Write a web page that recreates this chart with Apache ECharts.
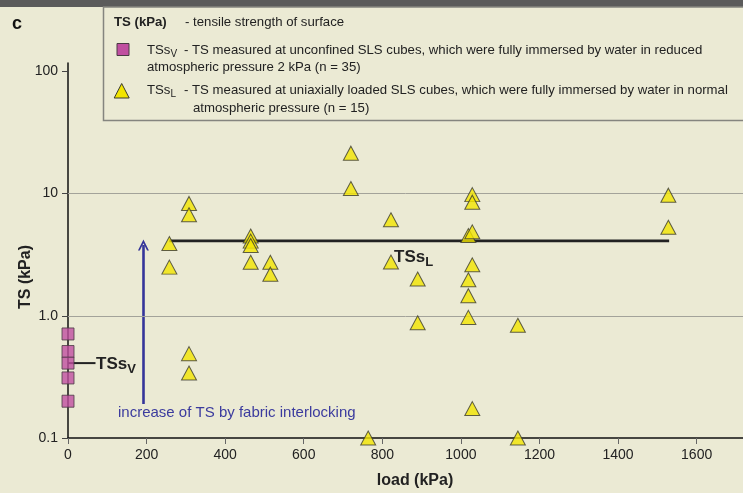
<!DOCTYPE html>
<html>
<head>
<meta charset="utf-8">
<script src="https://cdn.jsdelivr.net/npm/echarts@6/dist/echarts.min.js"></script>
<style>
html,body{margin:0;padding:0;background:#ebead4;}
#c{width:743px;height:493px;}
</style>
</head>
<body>
<div id="c"></div>
<script>
// ---- data ----
const xTickValues = [0, 200, 400, 600, 800, 1000, 1200, 1400, 1600];
const yTickValues = [0.1, 1, 10, 100];
const yTickLabels = ['0.1', '1.0', '10', '100'];

// TSs_V : unconfined cubes, reduced pressure (load 0)
const tsvLoad = [0, 0, 0, 0, 0];
const tsvValue = [0.71, 0.51, 0.41, 0.31, 0.20];

// TSs_L : uniaxially loaded cubes
const tslLoad = [258, 258, 308, 308, 308, 308, 465, 465, 465, 465, 515, 515,
  720, 720, 764, 822, 822, 890, 890, 1019, 1029, 1029, 1029, 1029, 1019, 1019, 1019, 1029,
  1145, 1145, 1528, 1528];
const tslValue = [3.9, 2.5, 8.3, 6.7, 0.49, 0.34, 4.49, 4.08, 3.76, 2.74, 2.74, 2.19,
  21.4, 11.0, 0.1, 6.1, 2.75, 2.0, 0.877, 4.53, 4.86, 9.8, 8.5, 2.61, 1.97, 1.46, 0.97, 0.174,
  0.836, 0.1, 9.7, 5.3];

// mean lines
const tsvMeanLoad = [0, 70];
const tsvMean = 0.41;
const tslMeanLoad = [258, 1530];
const tslMean = 4.1;

// arrow "increase of TS by fabric interlocking"
const arrowLoad = 192;
const arrowFrom = 0.19;
const arrowTo = 3.8;

// gridlines
const gridValues = [1, 10];

const FONT = "'Liberation Sans', Arial, sans-serif";
const LF = '13.2px ' + FONT;

const chart = echarts.init(document.getElementById('c'), null, {renderer: 'canvas'});

const squareData = tsvLoad.map((x, i) => [x, tsvValue[i]]);
const triData = tslLoad.map((x, i) => [x, tslValue[i]]);

const option = {
  backgroundColor: '#ebead4',
  animation: false,
  grid: {left: 68, right: 0, top: 63, bottom: 55},
  xAxis: {
    type: 'value', min: 0, max: 1718, interval: 200,
    axisLine: {show: true, onZero: false, lineStyle: {color: '#111', width: 1.5}},
    axisTick: {show: true, length: 6, lineStyle: {color: '#666', width: 1}, customValues: xTickValues},
    axisLabel: {fontFamily: FONT, fontSize: 14, color: '#222', margin: 10, customValues: xTickValues,
      formatter: function (v) { return String(Math.round(v)); }},
    splitLine: {show: false}
  },
  yAxis: {
    type: 'log', logBase: 10, min: 0.1, max: 117,
    axisLine: {show: true, onZero: false, lineStyle: {color: '#111', width: 1.5}},
    axisTick: {show: true, length: 6, lineStyle: {color: '#444', width: 1}, customValues: yTickValues},
    axisLabel: {
      fontFamily: FONT, fontSize: 14, color: '#222', margin: 10, customValues: yTickValues,
      formatter: function (v) {
        let best = 0;
        for (let i = 0; i < yTickValues.length; i++) {
          if (Math.abs(Math.log10(v) - Math.log10(yTickValues[i])) < Math.abs(Math.log10(v) - Math.log10(yTickValues[best]))) best = i;
        }
        return yTickLabels[best];
      }
    },
    splitLine: {show: false}
  },
  series: [
    {
      type: 'line', data: [], silent: true, z: 1,
      markLine: {
        silent: true, symbol: ['none', 'none'], label: {show: false},
        lineStyle: {color: '#a3a39a', width: 1, type: 'solid'},
        data: gridValues.map(v => ({yAxis: v}))
      }
    },
    {
      type: 'line', name: 'TSs_L mean', z: 2, silent: true, symbol: 'none',
      data: tslMeanLoad.map(x => [x, tslMean]),
      lineStyle: {color: '#222', width: 2.8}
    },
    {
      type: 'line', name: 'TSs_V mean', z: 2, silent: true, symbol: 'none',
      data: tsvMeanLoad.map(x => [x, tsvMean]),
      lineStyle: {color: '#222', width: 2}
    },
    {
      type: 'lines', coordinateSystem: 'cartesian2d', z: 2, silent: true,
      symbol: ['none', 'path://M0,11 L7,0 L14,11 L11.6,11 L7,3.8 L2.4,11 Z'],
      symbolSize: [14, 11],
      lineStyle: {color: '#35359a', width: 2.6, opacity: 1},
      data: [{coords: [[arrowLoad, arrowFrom], [arrowLoad, arrowTo]]}]
    },
    {
      type: 'scatter', name: 'TSs_V', z: 4, clip: false,
      symbol: 'rect', symbolSize: 12,
      itemStyle: {color: '#c04fa0', borderColor: '#4a3a44', borderWidth: 1},
      data: squareData
    },
    {
      type: 'scatter', name: 'TSs_L', z: 5, clip: false,
      symbol: 'triangle', symbolSize: [15, 14],
      itemStyle: {color: '#f2e500', borderColor: '#3a3a30', borderWidth: 1},
      data: triData
    }
  ],
  graphic: [
    {type: 'rect', shape: {x: 0, y: 0, width: 743, height: 7}, style: {fill: '#5b5b5b'}, z: 10},
    {type: 'text', style: {x: 12, y: 24, text: 'c', font: 'bold 18px ' + FONT, fill: '#111', verticalAlign: 'middle'}},
    // legend box
    {type: 'rect', shape: {x: 103.5, y: 7, width: 645, height: 113.5}, style: {fill: '#ebead4', stroke: '#85857f', lineWidth: 1.5}, z: 10},
    {type: 'text', z: 11, style: {x: 114, y: 22, text: 'TS (kPa)', font: 'bold ' + LF, fill: '#222', verticalAlign: 'middle'}},
    {type: 'text', z: 11, style: {x: 185, y: 22, text: '- tensile strength of surface', font: LF, fill: '#222', verticalAlign: 'middle'}},
    {type: 'rect', z: 11, shape: {x: 117, y: 43.5, width: 12, height: 12}, style: {fill: '#c04fa0', stroke: '#4a3a44', lineWidth: 1}},
    {type: 'text', z: 11, style: {x: 147, y: 50, text: '{a|TSs}{s|V}', fill: '#222', verticalAlign: 'middle',
      rich: {a: {fontFamily: FONT, fontSize: 13.2, fill: '#222'}, s: {fontFamily: FONT, fontSize: 10, fill: '#222', padding: [9, 0, 0, 0]}}}},
    {type: 'text', z: 11, style: {x: 184, y: 50, text: '- TS measured at unconfined SLS cubes, which were fully immersed by water in reduced', font: LF, fill: '#222', verticalAlign: 'middle'}},
    {type: 'text', z: 11, style: {x: 147, y: 67, text: 'atmospheric pressure 2 kPa (n = 35)', font: LF, fill: '#222', verticalAlign: 'middle'}},
    {type: 'polygon', z: 11, shape: {points: [[121.7, 83.5], [129.2, 98], [114.2, 98]]}, style: {fill: '#f2e500', stroke: '#3a3a30', lineWidth: 1}},
    {type: 'text', z: 11, style: {x: 147, y: 90, text: '{a|TSs}{s|L}', fill: '#222', verticalAlign: 'middle',
      rich: {a: {fontFamily: FONT, fontSize: 13.2, fill: '#222'}, s: {fontFamily: FONT, fontSize: 10, fill: '#222', padding: [9, 0, 0, 0]}}}},
    {type: 'text', z: 11, style: {x: 184, y: 90, text: '- TS measured at uniaxially loaded SLS cubes, which were fully immersed by water in normal', font: LF, fill: '#222', verticalAlign: 'middle'}},
    {type: 'text', z: 11, style: {x: 193, y: 108, text: 'atmospheric pressure (n = 15)', font: LF, fill: '#222', verticalAlign: 'middle'}},
    // in-chart labels
    {type: 'text', z: 11, style: {x: 96, y: 364, text: '{a|TSs}{s|V}', fill: '#222', verticalAlign: 'middle',
      rich: {a: {fontFamily: FONT, fontSize: 17, fontWeight: 'bold', fill: '#222'}, s: {fontFamily: FONT, fontSize: 13, fontWeight: 'bold', fill: '#222', padding: [11, 0, 0, 0]}}}},
    {type: 'text', z: 11, style: {x: 394, y: 257, text: '{a|TSs}{s|L}', fill: '#222', verticalAlign: 'middle',
      rich: {a: {fontFamily: FONT, fontSize: 17, fontWeight: 'bold', fill: '#222'}, s: {fontFamily: FONT, fontSize: 13, fontWeight: 'bold', fill: '#222', padding: [11, 0, 0, 0]}}}},
    {type: 'text', z: 11, style: {x: 118, y: 413, text: 'increase of TS by fabric interlocking', font: '15px ' + FONT, fill: '#3b3b9e', verticalAlign: 'middle'}},
    // axis names
    {type: 'text', z: 11, x: 26, y: 277, rotation: Math.PI / 2, style: {x: 0, y: 0, text: 'TS (kPa)', font: 'bold 16px ' + FONT, fill: '#222', align: 'center', verticalAlign: 'middle'}},
    {type: 'text', z: 11, style: {x: 415, y: 481, text: 'load (kPa)', font: 'bold 16px ' + FONT, fill: '#222', align: 'center', verticalAlign: 'middle'}}
  ]
};
chart.setOption(option);
</script>
</body>
</html>
